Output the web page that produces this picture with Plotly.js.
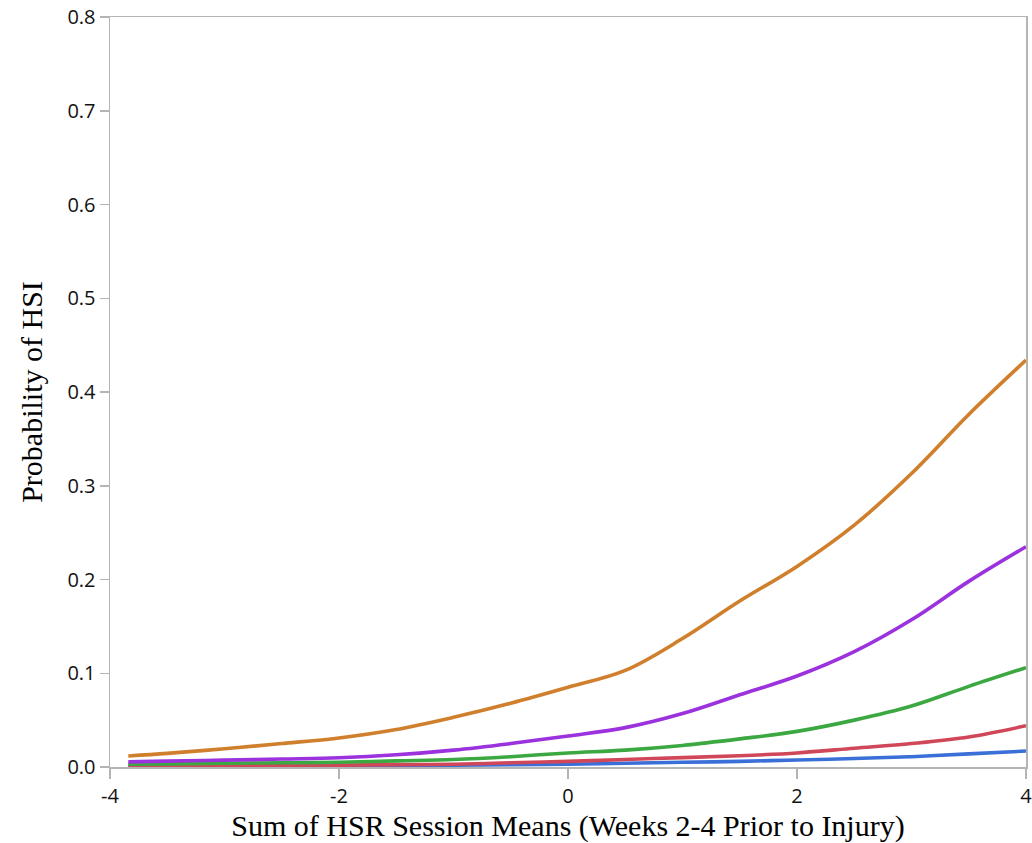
<!DOCTYPE html>
<html>
<head>
<meta charset="utf-8">
<script src="https://cdn.plot.ly/plotly-3.0.1.min.js"></script>
<style>html,body{margin:0;padding:0;background:#fff;}#chart{width:1032px;height:843px;}</style>
</head>
<body>
<div id="chart"></div>
<script>
const xVals = [-3.84, -3.5, -3, -2.5, -2, -1.5, -1, -0.5, 0, 0.5, 1, 1.5, 2, 2.5, 3, 3.5, 4];
const orange = [0.0117, 0.0145, 0.0195, 0.025, 0.031, 0.040, 0.053, 0.068, 0.085, 0.103, 0.137, 0.177, 0.214, 0.258, 0.313, 0.376, 0.434];
const purple = [0.0055, 0.0063, 0.0073, 0.0085, 0.0098, 0.013, 0.018, 0.025, 0.033, 0.042, 0.057, 0.077, 0.097, 0.123, 0.157, 0.198, 0.235];
const green  = [0.003, 0.0033, 0.004, 0.0045, 0.005, 0.0065, 0.008, 0.011, 0.015, 0.018, 0.023, 0.030, 0.038, 0.050, 0.065, 0.086, 0.106];
const red    = [0.001, 0.0012, 0.0014, 0.0017, 0.002, 0.0025, 0.003, 0.0045, 0.006, 0.008, 0.010, 0.012, 0.015, 0.020, 0.025, 0.032, 0.044];
const blue   = [0.0008, 0.0009, 0.001, 0.0011, 0.0012, 0.0016, 0.002, 0.0025, 0.003, 0.004, 0.005, 0.006, 0.0075, 0.009, 0.011, 0.014, 0.017];
const seriesNames = ["Series 1", "Series 2", "Series 3", "Series 4", "Series 5"];
const seriesData = [blue, red, green, purple, orange];
const seriesColors = ["#3b6fd8", "#d0475a", "#3ba842", "#9b32de", "#d07f2c"];
const xTickVals = [-4, -2, 0, 2, 4];
const yTickVals = [0, 0.1, 0.2, 0.3, 0.4, 0.5, 0.6, 0.7, 0.8];

const traces = seriesData.map((ys, i) => ({
  x: xVals, y: ys, type: 'scatter', mode: 'lines', name: seriesNames[i],
  line: {color: seriesColors[i], width: 3.6, shape: 'spline', smoothing: 1},
  showlegend: false
}));

const axisColor = '#b4b4b4';
const layout = {
  width: 1032, height: 843,
  margin: {l: 110, r: 6, t: 17, b: 76},
  paper_bgcolor: '#fff', plot_bgcolor: '#fff',
  xaxis: {
    range: [-4, 4], tickvals: xTickVals, ticktext: xTickVals.map(String),
    showgrid: false, zeroline: false,
    showline: true, linecolor: axisColor, linewidth: 1.5, mirror: true,
    ticks: 'outside', ticklen: 10, tickcolor: axisColor, tickwidth: 1.5,
    ticklabeloverflow: 'allow',
    tickfont: {family: 'Open Sans, sans-serif', size: 20, color: '#111'},
    title: {text: 'Sum of HSR Session Means (Weeks 2-4 Prior to Injury)', standoff: 0,
            font: {family: 'Liberation Serif, serif', size: 30, color: '#000'}},
    automargin: false
  },
  yaxis: {
    range: [0, 0.8], tickvals: yTickVals, ticktext: yTickVals.map(v => v.toFixed(1)),
    showgrid: false, zeroline: false,
    showline: true, linecolor: axisColor, linewidth: 1.5, mirror: true,
    ticks: 'outside', ticklen: 9, tickcolor: axisColor, tickwidth: 1.5,
    tickfont: {family: 'Open Sans, sans-serif', size: 20, color: '#111'},
    title: {text: 'Probability of HSI', standoff: 16,
            font: {family: 'Liberation Serif, serif', size: 30, color: '#000'}},
    automargin: false
  }
};

Plotly.newPlot('chart', traces, layout, {displayModeBar: false, staticPlot: true});
</script>
</body>
</html>
